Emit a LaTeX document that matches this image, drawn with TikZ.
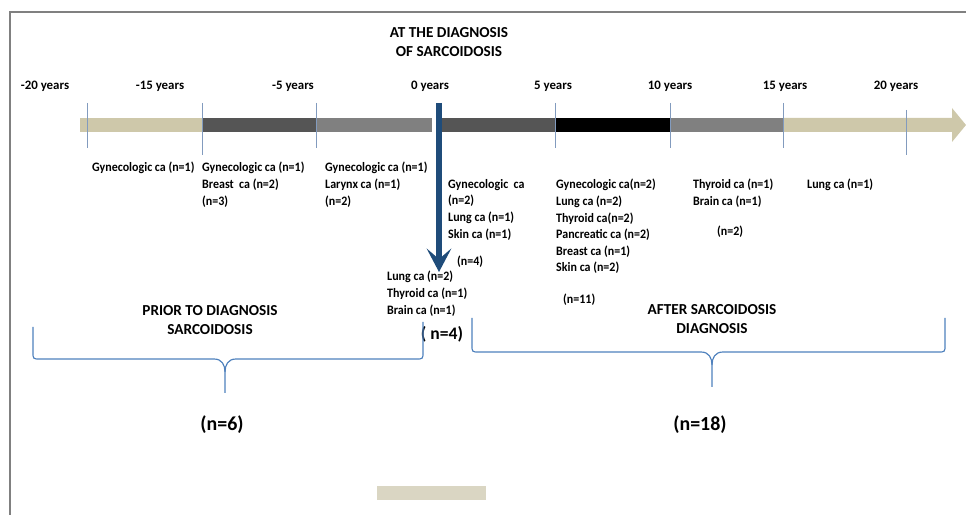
\documentclass[tikz,border=0pt]{standalone}
\usepackage{fontspec}
\setmainfont{Carlito}
\newfontfamily\narrowfont{Carlito}[FakeStretch=0.93]
\usetikzlibrary{arrows.meta}
\usetikzlibrary{positioning}

\definecolor{sand}{RGB}{206,200,170}
\definecolor{darkbar}{RGB}{85,85,85}
\definecolor{midbar}{RGB}{128,128,128}
\definecolor{tickblue}{RGB}{130,155,190}
\definecolor{navy}{RGB}{31,76,122}
\definecolor{braceblue}{RGB}{79,129,189}
\definecolor{framegray}{RGB}{128,128,128}
\definecolor{swatch}{RGB}{218,214,195}

\begin{document}
\begin{tikzpicture}
  [
    x=0.03cm,y=-0.03cm,
    year/.style={font=\fontsize{11}{13}\selectfont\bfseries,inner sep=0pt},
    lbl/.style={font=\narrowfont\fontsize{11}{14.2}\selectfont\bfseries,align=left,anchor=north west,inner sep=0pt},
    heading/.style={font=\fontsize{13}{16.2}\selectfont\bfseries,align=center,inner sep=0pt},
    total/.style={font=\fontsize{17}{19}\selectfont\bfseries,inner sep=0pt},
    tick/.style={tickblue,line width=.8pt},
    curly/.style={braceblue,line width=1pt},
  ]
    \useasboundingbox (0,0) rectangle (966,515);
    % frame
    \draw [framegray,line width=1.2pt] (10,515) -- (10,12) -- (966,12);
    % time bar
    \foreach \a/\b/\c in {80/202/sand,202/316/darkbar,316/432/midbar,442/555/darkbar,555/670/black,670/783/midbar}
      \fill [\c] (\a,118) rectangle (\b,132);
    \fill [sand] (783,118) -- (952,118) -- (952,108) -- (966,125) -- (952,142) -- (952,132) -- (783,132) -- cycle;
    % ticks
    \foreach \x/\t/\b in {87/103/148,202/103/155,316/103/148,555/103/148,670/103/148,783/103/148,906/110/155}
      \draw [tick] (\x,\t) -- (\x,\b);
    % years
    \foreach \x/\lab [count=\i] in {45/-20,160/-15,293/-5,430/0,553/5,670/10,785/15,896/20}
      \node [year] (yr\i) at (\x,86) {\lab\ years};
    \node [heading] (diag) at (449,42) {AT THE DIAGNOSIS\\OF SARCOIDOSIS};
    % diagnosis arrow
    \coordinate (onset) at (439,103);
    \coordinate (onset tip) at (439,272);
    \draw [navy,line width=5pt,-{Stealth[length=20pt,width=21pt,inset=9pt]}] (onset) -- (onset tip);
    % cancers before diagnosis
    \node [lbl,anchor=west] (g1) at (92,168) {Gynecologic ca (n=1)};
    \node [lbl] (g2) at (202,162) {Gynecologic ca (n=1)\\Breast\ \ ca (n=2)\\(n=3)};
    \node [lbl] (g3) at (325,162) {Gynecologic ca (n=1)\\Larynx ca (n=1)\\(n=2)};
    % cancers at diagnosis
    \node [lbl] (g0) at (387,271) {Lung ca (n=2)\\Thyroid ca (n=1)\\Brain ca (n=1)};
    \node [total,font=\fontsize{15}{17}\selectfont\bfseries] (g0 n) at (442,334) {( n=4)};
    % cancers after diagnosis
    \node [lbl] (g4) at (448,179) {Gynecologic\ \ ca\\(n=2)\\Lung ca (n=1)\\Skin ca (n=1)};
    \node [lbl,anchor=west] (g4 n) at (457,262) {(n=4)};
    \node [lbl] (g5) at (556,179) {Gynecologic ca(n=2)\\Lung ca (n=2)\\Thyroid ca(n=2)\\Pancreatic ca (n=2)\\Breast ca (n=1)\\Skin ca (n=2)};
    \node [lbl,anchor=west] (g5 n) at (563,300) {(n=11)};
    \node [lbl] (g6) at (693,179) {Thyroid ca (n=1)\\Brain ca (n=1)};
    \node [lbl,anchor=west] (g6 n) at (717,232) {(n=2)};
    \node [lbl,anchor=west] (g7) at (807,185) {Lung ca (n=1)};
    % braces
    \draw [curly] (33,327) -- (33,352) .. controls (33,359) .. (40,359) -- (214,359)
      .. controls (222,359) and (225,365) .. (225,372) -- (225,393);
    \draw [curly] (225,372) .. controls (225,365) and (228,359) .. (236,359) -- (416,359)
      .. controls (423,359) .. (423,352) -- (423,322);
    \draw [curly] (472,318) -- (472,345) .. controls (472,352) .. (479,352) -- (701,352)
      .. controls (709,352) and (712,358) .. (712,365) -- (712,387);
    \draw [curly] (712,365) .. controls (712,358) and (715,352) .. (723,352) -- (938,352)
      .. controls (945,352) .. (945,345) -- (945,318);
    \node [heading] (prior) at (210,320) {PRIOR TO DIAGNOSIS\\SARCOIDOSIS};
    \node [heading] (after) at (712,319) {AFTER SARCOIDOSIS\\DIAGNOSIS};
    \node [total] (prior n) at (222,425) {(n=6)};
    \node [total] (after n) at (700,425) {(n=18)};
    % legend swatch
    \fill [swatch] (377,486) rectangle (486,500);
  \end{tikzpicture}
\end{document}
